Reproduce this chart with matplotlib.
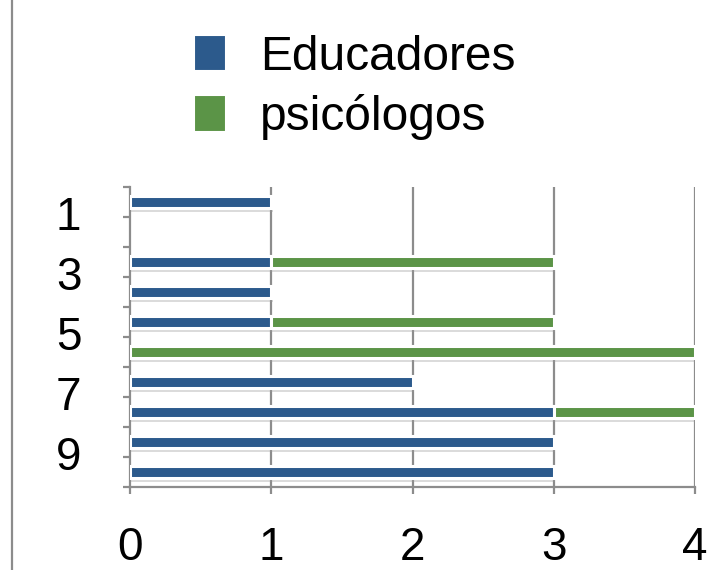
import matplotlib.pyplot as plt
import matplotlib.patheffects as pe
from matplotlib.lines import Line2D
from matplotlib.patches import Patch
import numpy as np

categorias = [1, 2, 3, 4, 5, 6, 7, 8, 9, 10]
educadores = [1, 0, 1, 1, 1, 0, 2, 3, 3, 3]
psicologos = [0, 0, 2, 0, 2, 4, 0, 1, 0, 0]
etiquetas_y = ["1", "3", "5", "7", "9"]
pos_etiquetas = [1, 3, 5, 7, 9]
etiquetas_x = ["0", "1", "2", "3", "4"]

azul = "#2C5A8C"
verde = "#5B9447"
gris = "#8C8C8C"

plt.rcParams["font.family"] = ["Liberation Sans", "DejaVu Sans"]

fig = plt.figure(figsize=(7.09, 5.70), dpi=100)
ax = fig.add_axes([130 / 709, 83 / 570, 565 / 709, 300 / 570])

sombra = [pe.SimplePatchShadow(offset=(1, -3), shadow_rgbFace="#999999", alpha=0.35), pe.Normal()]

y = np.array(categorias)
b1 = ax.barh(y, educadores, height=0.38, color=azul, edgecolor="white", linewidth=2.2, zorder=3)
b2 = ax.barh(y, psicologos, left=educadores, height=0.38, color=verde, edgecolor="white",
             linewidth=2.2, zorder=3)
for r in list(b1) + list(b2):
    if r.get_width() > 0:
        r.set_path_effects(sombra)
    else:
        r.set_visible(False)

ax.set_xlim(0, 4)
ax.set_ylim(10.5, 0.5)

# gridlines
for v in [1, 2, 3, 4]:
    ax.axvline(v, color=gris, lw=1.6, zorder=1)

for s in ["top", "right"]:
    ax.spines[s].set_visible(False)
for s in ["left", "bottom"]:
    ax.spines[s].set_color(gris)
    ax.spines[s].set_linewidth(1.6)

ax.set_xticks(range(5))
ax.set_xticklabels(etiquetas_x, fontsize=33)
ax.tick_params(axis="x", length=5, width=1.6, color=gris, pad=23)

ax.set_yticks(np.arange(0.5, 11, 1))
ax.set_yticklabels([])
ax.tick_params(axis="y", which="major", length=5, width=1.6, color=gris)
ax.set_yticks([p + 0.37 for p in pos_etiquetas], minor=True)
ax.set_yticklabels(etiquetas_y, minor=True, fontsize=33)
ax.tick_params(axis="y", which="minor", length=0, pad=35)

fig.add_artist(Line2D([12 / 709, 12 / 709], [0, 1], color=gris, lw=1.6))

handles = [Patch(facecolor=azul, edgecolor="white", linewidth=1.5),
           Patch(facecolor=verde, edgecolor="white", linewidth=1.5)]
fig.legend(handles=handles, labels=["Educadores", "psicólogos"], loc="upper left",
           bbox_to_anchor=(160 / 709, 1 - 1 / 570), frameon=False, fontsize=34.5,
           handlelength=0.68, handleheight=0.8, handletextpad=0.7, labelspacing=0.3,
           borderpad=0.2)

fig.savefig("out.png", dpi=100)
